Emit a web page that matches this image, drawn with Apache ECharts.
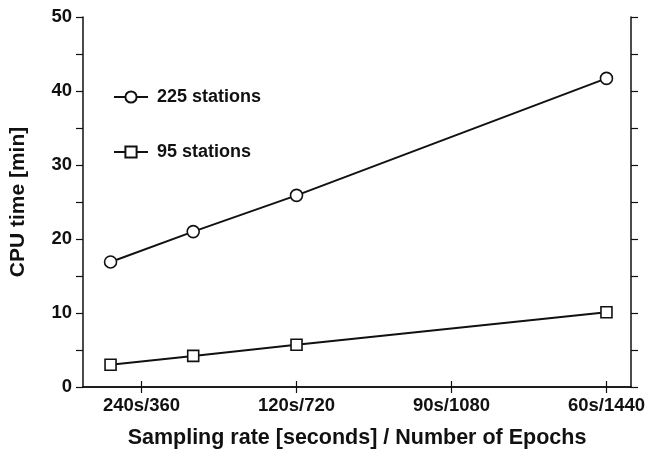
<!DOCTYPE html>
<html>
<head>
<meta charset="utf-8">
<script src="https://cdn.jsdelivr.net/npm/echarts@6/dist/echarts.min.js"></script>
<style>
html,body{margin:0;padding:0;background:#fff;}
#chart{width:648px;height:460px;}
</style>
</head>
<body>
<div id="chart"></div>
<script>
const epochs = [288, 480, 720, 1440];
const stations225 = [16.9, 21.0, 25.9, 41.7];
const stations95 = [3.0, 4.2, 5.7, 10.1];
const tickValues = [360, 720, 1080, 1440];
const tickLabels = ['240s/360', '120s/720', '90s/1080', '60s/1440'];
const seriesNames = ['225 stations', '95 stations'];

const FONT = '"Liberation Sans", Arial, Helvetica, sans-serif';
const chart = echarts.init(document.getElementById('chart'));

const xMin = 224, xMax = 1497;

chart.setOption({
  animation: false,
  backgroundColor: '#fff',
  grid: { left: 82, right: 12, top: 17, bottom: 73, containLabel: false },
  legend: {
    orient: 'vertical',
    left: 108,
    top: 83,
    itemGap: 37,
    itemWidth: 34,
    itemHeight: 14,
    textStyle: { fontFamily: FONT, fontWeight: 'bold', fontSize: 18, color: '#111', lineHeight: 18, padding: [0, 0, 0, 4] },
    data: seriesNames
  },
  xAxis: [
    {
      type: 'value', position: 'bottom', min: xMin, max: xMax,
      name: 'Sampling rate [seconds] / Number of Epochs',
      nameLocation: 'middle', nameGap: 40,
      nameTextStyle: { fontFamily: FONT, fontWeight: 'bold', fontSize: 21.5, color: '#111' },
      axisLine: { show: true, lineStyle: { color: '#111', width: 1.5 } },
      axisTick: { show: true, inside: false, length: 6, customValues: tickValues, lineStyle: { color: '#111', width: 1.2 } },
      axisLabel: {
        show: true, margin: 9, customValues: tickValues,
        fontFamily: FONT, fontWeight: 'bold', fontSize: 18.5, color: '#111',
        formatter: function (v) { const i = tickValues.indexOf(v); return i >= 0 ? tickLabels[i] : ''; }
      },
      splitLine: { show: false }
    },
    {
      type: 'value', position: 'top', min: xMin, max: xMax,
      axisLine: { show: true, lineStyle: { color: '#111', width: 1.5 } },
      axisTick: { show: true, inside: false, length: 6, customValues: tickValues, lineStyle: { color: '#111', width: 1.2 } },
      axisLabel: { show: false },
      splitLine: { show: false }
    }
  ],
  yAxis: [
    {
      type: 'value', position: 'left', min: 0, max: 50, interval: 5,
      name: 'CPU time [min]', nameLocation: 'middle', nameGap: 54, nameRotate: 90,
      nameTextStyle: { fontFamily: FONT, fontWeight: 'bold', fontSize: 21, color: '#111' },
      axisLine: { show: true, lineStyle: { color: '#111', width: 1.5 } },
      axisTick: { show: true, inside: false, length: 7, lineStyle: { color: '#111', width: 1.2 } },
      axisLabel: {
        show: true, margin: 11, fontFamily: FONT, fontWeight: 'bold', fontSize: 18.5, color: '#111',
        formatter: function (v) { return v % 10 === 0 ? String(v) : ''; }
      },
      splitLine: { show: false }
    },
    {
      type: 'value', position: 'right', min: 0, max: 50, interval: 5,
      axisLine: { show: true, lineStyle: { color: '#111', width: 1.5 } },
      axisTick: { show: true, inside: false, length: 7, lineStyle: { color: '#111', width: 1.2 } },
      axisLabel: { show: false },
      splitLine: { show: false }
    }
  ],
  series: [
    {
      name: seriesNames[0], type: 'line',
      data: epochs.map((x, i) => [x, stations225[i]]),
      symbol: 'circle', symbolSize: 12, showSymbol: true,
      lineStyle: { color: '#111', width: 2 },
      itemStyle: { color: '#fff', borderColor: '#111', borderWidth: 1.6 }
    },
    {
      name: seriesNames[1], type: 'line',
      data: epochs.map((x, i) => [x, stations95[i]]),
      symbol: 'rect', symbolSize: 11, showSymbol: true,
      lineStyle: { color: '#111', width: 2 },
      itemStyle: { color: '#fff', borderColor: '#111', borderWidth: 1.6 }
    }
  ]
});
</script>
</body>
</html>
